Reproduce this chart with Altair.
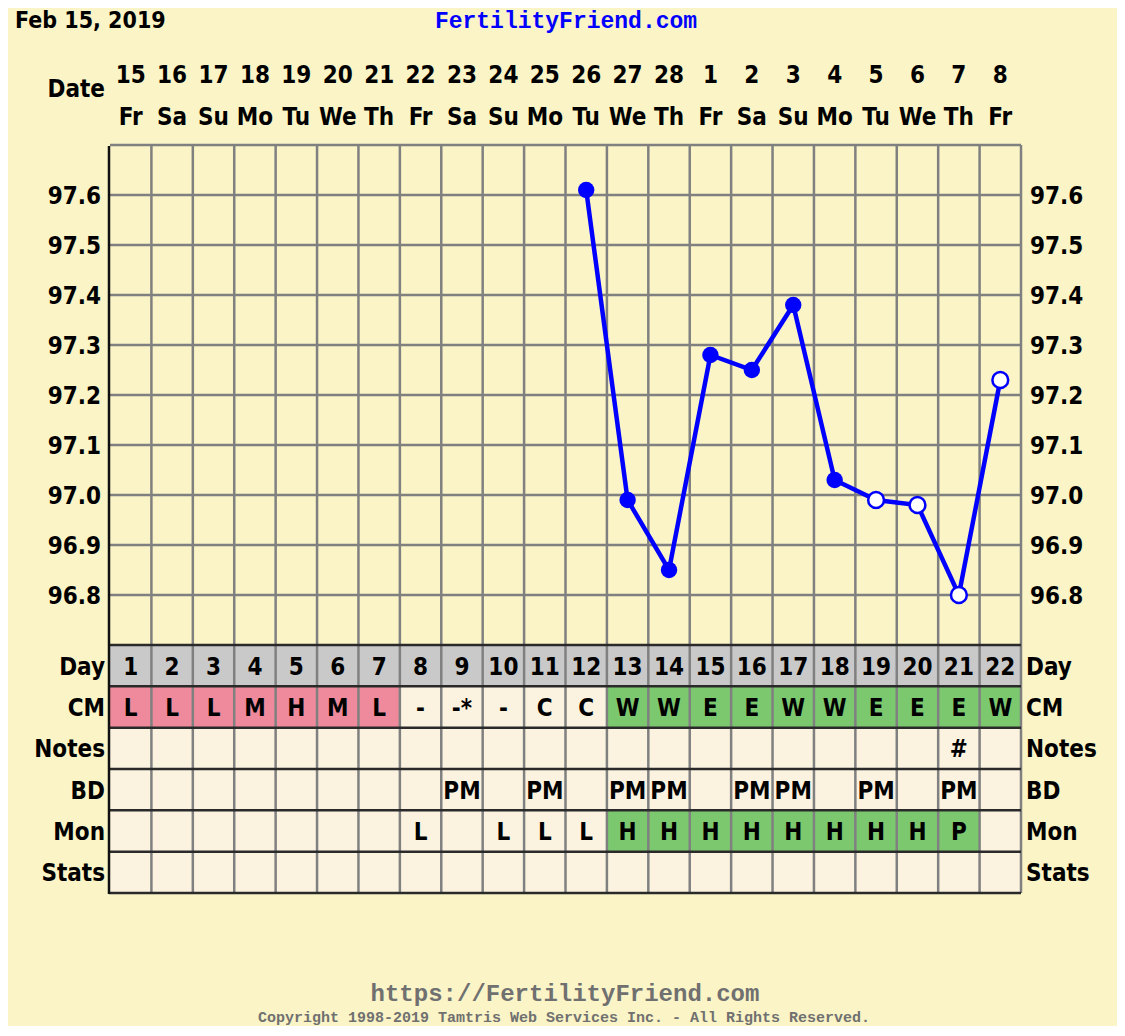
import altair as alt
import pandas as pd

# ---------------- data ----------------
date_nums = ["15", "16", "17", "18", "19", "20", "21", "22", "23", "24", "25",
             "26", "27", "28", "1", "2", "3", "4", "5", "6", "7", "8"]
weekdays = ["Fr", "Sa", "Su", "Mo", "Tu", "We", "Th", "Fr", "Sa", "Su", "Mo",
            "Tu", "We", "Th", "Fr", "Sa", "Su", "Mo", "Tu", "We", "Th", "Fr"]
cycle_days = list(range(1, 23))

temp_days = [12, 13, 14, 15, 16, 17, 18, 19, 20, 21, 22]
temps = [97.61, 96.99, 96.85, 97.28, 97.25, 97.38, 97.03, 96.99, 96.98, 96.80, 97.23]
temp_open = [False, False, False, False, False, False, False, True, True, True, True]
temp_ticks = [96.8, 96.9, 97.0, 97.1, 97.2, 97.3, 97.4, 97.5, 97.6]
temp_tick_labels = ["96.8", "96.9", "97.0", "97.1", "97.2", "97.3", "97.4", "97.5", "97.6"]

cm_codes = ["L", "L", "L", "M", "H", "M", "L", "-", "-*", "-", "C", "C",
            "W", "W", "E", "E", "W", "W", "E", "E", "E", "W"]
cm_shade = ["pink"] * 7 + ["plain"] * 5 + ["green"] * 10
notes = [""] * 20 + ["#", ""]
bd = ["", "", "", "", "", "", "", "", "PM", "", "PM", "", "PM", "PM", "", "PM",
      "PM", "", "PM", "", "PM", ""]
mon = ["", "", "", "", "", "", "", "L", "", "L", "L", "L", "H", "H", "H", "H",
       "H", "H", "H", "H", "P", ""]
mon_shade = ["plain"] * 12 + ["green"] * 9 + ["plain"]
row_names = ["Day", "CM", "Notes", "BD", "Mon", "Stats"]

shade_colors = {"gray": "#C9C9C9", "pink": "#EE8A9B", "green": "#7CC86F", "plain": "#FBF3E0"}

# ---------------- tables built from the lists ----------------
table_rows = []
for i, d in enumerate(cycle_days):
    table_rows.append(dict(day=d, row=0, label=str(d), fill=shade_colors["gray"]))
    table_rows.append(dict(day=d, row=1, label=cm_codes[i], fill=shade_colors[cm_shade[i]]))
    table_rows.append(dict(day=d, row=2, label=notes[i], fill=shade_colors["plain"]))
    table_rows.append(dict(day=d, row=3, label=bd[i], fill=shade_colors["plain"]))
    table_rows.append(dict(day=d, row=4, label=mon[i], fill=shade_colors[mon_shade[i]]))
    table_rows.append(dict(day=d, row=5, label="", fill=shade_colors["plain"]))
table_df = pd.DataFrame(table_rows)

temp_df = pd.DataFrame({"day": temp_days, "temp": temps, "open": temp_open})
tick_df = pd.DataFrame({"temp": temp_ticks, "label": temp_tick_labels})
date_df = pd.DataFrame({"day": cycle_days, "num": date_nums, "wd": weekdays})
rowname_df = pd.DataFrame({"row": list(range(6)), "name": row_names})

FONT = "DejaVu Sans Condensed, DejaVu Sans"
MONO = "Liberation Mono"
BG = "#FAF4C6"

xs = alt.Scale(domain=[0.5, 22.5], range=[102, 1013])
ys_temp = alt.Scale(domain=[96.7, 97.7], range=[637, 137])
ys_tab = alt.Scale(domain=[0, 6], range=[637, 885])

# ---------------- layers ----------------
cells = alt.Chart(table_df).mark_rect(stroke=None).transform_calculate(
    x0="datum.day - 0.5", x1="datum.day + 0.5", r1="datum.row + 1"
).encode(
    x=alt.X("x0:Q", scale=xs, axis=None),
    x2="x1:Q",
    y=alt.Y("row:Q", scale=ys_tab, axis=None),
    y2="r1:Q",
    color=alt.Color("fill:N", scale=None),
)

cell_text = alt.Chart(table_df).mark_text(
    font=FONT, fontWeight="bold", fontSize=24, color="#000000", baseline="alphabetic", dy=9
).transform_calculate(rc="datum.row + 0.5").encode(
    x=alt.X("day:Q", scale=xs, axis=None),
    y=alt.Y("rc:Q", scale=ys_tab, axis=None),
    text="label:N",
)

bounds_df = pd.DataFrame({"b": [i + 0.5 for i in range(1, 23)]})
vlines = alt.Chart(bounds_df).mark_rule(color="#808080", strokeWidth=2.5).encode(
    x=alt.X("b:Q", scale=xs, axis=None), y=alt.value(137), y2=alt.value(885)
)

hgrid_df = pd.DataFrame({"temp": temp_ticks + [97.7]})
hlines = alt.Chart(hgrid_df).mark_rule(color="#808080", strokeWidth=2.5).encode(
    y=alt.Y("temp:Q", scale=ys_temp, axis=None), x=alt.value(102), x2=alt.value(1013)
)

tab_h_df = pd.DataFrame({"row": list(range(7))})
tab_hlines = alt.Chart(tab_h_df).mark_rule(color="#2a2a2a", strokeWidth=2.5).encode(
    y=alt.Y("row:Q", scale=ys_tab, axis=None), x=alt.value(101), x2=alt.value(1013)
)

left_border = alt.Chart(pd.DataFrame({"k": [0]})).mark_rule(color="#111111", strokeWidth=2.5).encode(
    x=alt.value(101), y=alt.value(138), y2=alt.value(886)
)

temp_line = alt.Chart(temp_df).mark_line(color="#0000FF", strokeWidth=4.5).encode(
    x=alt.X("day:Q", scale=xs, axis=None),
    y=alt.Y("temp:Q", scale=ys_temp, axis=None),
)
filled_pts = alt.Chart(temp_df).transform_filter("!datum.open").mark_point(
    shape="circle", filled=True, color="#0000FF", size=270, opacity=1
).encode(
    x=alt.X("day:Q", scale=xs, axis=None),
    y=alt.Y("temp:Q", scale=ys_temp, axis=None),
)
open_pts = alt.Chart(temp_df).transform_filter("datum.open").mark_point(
    shape="circle", filled=True, fill="#FFFFFF", stroke="#0000FF", strokeWidth=2.5, size=250, opacity=1
).encode(
    x=alt.X("day:Q", scale=xs, axis=None),
    y=alt.Y("temp:Q", scale=ys_temp, axis=None),
)

left_ticks = alt.Chart(tick_df).mark_text(
    font=FONT, fontWeight="bold", fontSize=24, align="right", baseline="alphabetic", dy=9, color="#000000"
).encode(x=alt.value(93), y=alt.Y("temp:Q", scale=ys_temp, axis=None), text="label:N")
right_ticks = alt.Chart(tick_df).mark_text(
    font=FONT, fontWeight="bold", fontSize=24, align="left", baseline="alphabetic", dy=9, color="#000000"
).encode(x=alt.value(1022), y=alt.Y("temp:Q", scale=ys_temp, axis=None), text="label:N")

rn_left = alt.Chart(rowname_df).mark_text(
    font=FONT, fontWeight="bold", fontSize=24, align="right", baseline="alphabetic", dy=9, color="#000000"
).transform_calculate(rc="datum.row + 0.5").encode(
    x=alt.value(97), y=alt.Y("rc:Q", scale=ys_tab, axis=None), text="name:N")
rn_right = alt.Chart(rowname_df).mark_text(
    font=FONT, fontWeight="bold", fontSize=24, align="left", baseline="alphabetic", dy=9, color="#000000"
).transform_calculate(rc="datum.row + 0.5").encode(
    x=alt.value(1018), y=alt.Y("rc:Q", scale=ys_tab, axis=None), text="name:N")

date_nums_txt = alt.Chart(date_df).mark_text(
    font=FONT, fontWeight="bold", fontSize=24, baseline="alphabetic", color="#000000"
).encode(x=alt.X("day:Q", scale=xs, axis=None), y=alt.value(75), text="num:N")
wd_txt = alt.Chart(date_df).mark_text(
    font=FONT, fontWeight="bold", fontSize=24, baseline="alphabetic", color="#000000"
).encode(x=alt.X("day:Q", scale=xs, axis=None), y=alt.value(117), text="wd:N")


def label(txt, x, y, size, color="#000000", font=FONT, align="left"):
    return alt.Chart(pd.DataFrame({"t": [txt]})).mark_text(
        font=font, fontWeight="bold", fontSize=size, color=color, align=align, baseline="alphabetic"
    ).encode(x=alt.value(x), y=alt.value(y), text="t:N")


date_lbl = label("Date", 97, 89, 24, align="right")
title_date = label("Feb 15, 2019", 7, 20, 23)
title_site = label("FertilityFriend.com", 558, 20, 23, color="#0000FF", font=MONO, align="center")
foot_url = label("https://FertilityFriend.com", 557, 993, 24, color="#707070", font=MONO, align="center")
foot_copy = label("Copyright 1998-2019 Tamtris Web Services Inc. - All Rights Reserved.", 556, 1014, 15,
                  color="#707070", font=MONO, align="center")

chart = alt.layer(
    cells, vlines, hlines, tab_hlines, left_border, cell_text,
    temp_line, filled_pts, open_pts,
    left_ticks, right_ticks, rn_left, rn_right,
    date_nums_txt, wd_txt, date_lbl, title_date, title_site, foot_url, foot_copy,
).resolve_scale(y="independent").properties(
    width=1109, height=1018, autosize=alt.AutoSizeParams(type="none"), padding=0, background=BG
).configure_view(stroke=None)

chart.save("out.html", embed_options={"renderer": "svg", "actions": False})
